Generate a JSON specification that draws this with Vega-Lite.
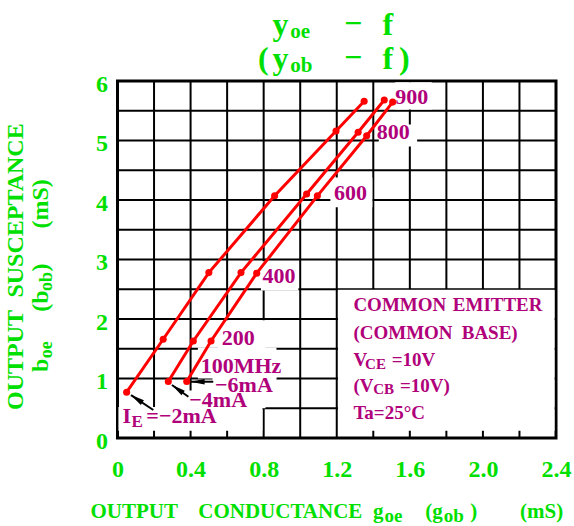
{
  "$schema": "https://vega.github.io/schema/vega-lite/v6.json",
  "width": 438.5,
  "height": 357,
  "autosize": "none",
  "padding": {"left": 117.5, "top": 81, "right": 18, "bottom": 88},
  "background": "white",
  "config": {
    "view": {"stroke": "black", "strokeWidth": 3},
    "axis": {"grid": false, "domain": false, "ticks": false, "title": null,
      "labelFont": "Liberation Serif", "labelFontWeight": "bold", "labelFontSize": 24, "labelColor": "#00e000", "labelFlush": false, "labelOverlap": false},
    "text": {"font": "Liberation Serif", "fontWeight": "bold"}
  },
  "datasets": {
    "gridX": [{"v": 0.2}, {"v": 0.4}, {"v": 0.6}, {"v": 0.8}, {"v": 1.0}, {"v": 1.2}, {"v": 1.4}, {"v": 1.6}, {"v": 1.8}, {"v": 2.0}, {"v": 2.2}],
    "gridY": [{"v": 0.5}, {"v": 1.0}, {"v": 1.5}, {"v": 2.0}, {"v": 2.5}, {"v": 3.0}, {"v": 3.5}, {"v": 4.0}, {"v": 4.5}, {"v": 5.0}, {"v": 5.5}],
    "curves": [
      {"ie": "-2mA", "freq": 100, "g": 0.05, "b": 0.77},
      {"ie": "-2mA", "freq": 200, "g": 0.25, "b": 1.66},
      {"ie": "-2mA", "freq": 400, "g": 0.50, "b": 2.78},
      {"ie": "-2mA", "freq": 600, "g": 0.86, "b": 4.07},
      {"ie": "-2mA", "freq": 800, "g": 1.196, "b": 5.16},
      {"ie": "-2mA", "freq": 900, "g": 1.35, "b": 5.66},
      {"ie": "-4mA", "freq": 100, "g": 0.278, "b": 0.95},
      {"ie": "-4mA", "freq": 200, "g": 0.415, "b": 1.63},
      {"ie": "-4mA", "freq": 400, "g": 0.676, "b": 2.78},
      {"ie": "-4mA", "freq": 600, "g": 1.035, "b": 4.10},
      {"ie": "-4mA", "freq": 800, "g": 1.317, "b": 5.14},
      {"ie": "-4mA", "freq": 900, "g": 1.46, "b": 5.68},
      {"ie": "-6mA", "freq": 100, "g": 0.379, "b": 0.95},
      {"ie": "-6mA", "freq": 200, "g": 0.512, "b": 1.63},
      {"ie": "-6mA", "freq": 400, "g": 0.762, "b": 2.77},
      {"ie": "-6mA", "freq": 600, "g": 1.094, "b": 4.07},
      {"ie": "-6mA", "freq": 800, "g": 1.364, "b": 5.08},
      {"ie": "-6mA", "freq": 900, "g": 1.506, "b": 5.645}
    ],
    "boxes": [
      {"name": "legend", "x": 1.207, "x2": 2.392, "y": 0.12, "y2": 2.49},
      {"name": "bottom", "x": 0.005, "x2": 0.793, "y": 0.12, "y2": 0.52},
      {"name": "m4", "x": 0.36, "x2": 0.81, "y": 0.5, "y2": 0.8},
      {"name": "m6", "x": 0.52, "x2": 0.87, "y": 0.75, "y2": 1.12},
      {"name": "mhz", "x": 0.44, "x2": 0.87, "y": 1.0, "y2": 1.52},
      {"name": "f200", "x": 0.55, "x2": 0.81, "y": 1.4, "y2": 1.98},
      {"name": "f400", "x": 0.785, "x2": 0.99, "y": 2.48, "y2": 2.97},
      {"name": "f600", "x": 1.165, "x2": 1.395, "y": 3.88, "y2": 4.38},
      {"name": "f800", "x": 1.43, "x2": 1.64, "y": 4.9, "y2": 5.27},
      {"name": "f900", "x": 1.52, "x2": 1.72, "y": 5.52, "y2": 5.98}
    ],
    "arrows": [
      {"id": "a2", "x": 0.196, "y": 0.47, "x2": 0.074, "y2": 0.72, "hx": 0.104, "hy": 0.66},
      {"id": "a4", "x": 0.388, "y": 0.694, "x2": 0.298, "y2": 0.89, "hx": 0.328, "hy": 0.826},
      {"id": "a6", "x": 0.524, "y": 0.946, "x2": 0.402, "y2": 0.946, "hx": 0.438, "hy": 0.946}
    ],
    "annot": [
      {"label": "900", "x": 1.52, "y": 5.73},
      {"label": "800", "x": 1.419, "y": 5.14},
      {"label": "600", "x": 1.185, "y": 4.11},
      {"label": "400", "x": 0.793, "y": 2.72},
      {"label": "200", "x": 0.57, "y": 1.68},
      {"label": "100MHz", "x": 0.455, "y": 1.21},
      {"label": "−6mA", "x": 0.534, "y": 0.89},
      {"label": "−4mA", "x": 0.393, "y": 0.64},
      {"label": "I", "x": 0.028, "y": 0.37},
      {"label": "=−2mA", "x": 0.158, "y": 0.37}
    ],
    "annotSub": [
      {"label": "E", "x": 0.077, "y": 0.27}
    ],
    "legendText": [
      {"label": "COMMON", "x": 1.291, "y": 2.235},
      {"label": "EMITTER", "x": 1.835, "y": 2.235},
      {"label": "(COMMON", "x": 1.291, "y": 1.76},
      {"label": "BASE)", "x": 1.884, "y": 1.76},
      {"label": "V", "x": 1.291, "y": 1.31},
      {"label": "=10V", "x": 1.501, "y": 1.31},
      {"label": "(V", "x": 1.291, "y": 0.88},
      {"label": "=10V)", "x": 1.546, "y": 0.88},
      {"label": "Ta=25°C", "x": 1.291, "y": 0.415}
    ],
    "legendSub": [
      {"label": "CE", "x": 1.355, "y": 1.25},
      {"label": "CB", "x": 1.40, "y": 0.82}
    ],
    "titleBig": [
      {"label": "y", "x": 0.849, "y": 6.773},
      {"label": "−", "x": 1.24, "y": 6.79},
      {"label": "f", "x": 1.45, "y": 6.773},
      {"label": "(", "x": 0.769, "y": 6.21},
      {"label": "y", "x": 0.849, "y": 6.21},
      {"label": "−", "x": 1.24, "y": 6.225},
      {"label": "f", "x": 1.45, "y": 6.21},
      {"label": ")", "x": 1.541, "y": 6.21}
    ],
    "titleSub": [
      {"label": "oe", "x": 0.945, "y": 6.716},
      {"label": "ob", "x": 0.945, "y": 6.151}
    ],
    "xTitle": [
      {"label": "OUTPUT", "x": -0.148, "y": -1.35},
      {"label": "CONDUCTANCE", "x": 0.442, "y": -1.35},
      {"label": "g", "x": 1.398, "y": -1.35},
      {"label": "(g", "x": 1.685, "y": -1.35},
      {"label": ")", "x": 1.93, "y": -1.35},
      {"label": "(mS)", "x": 2.203, "y": -1.35}
    ],
    "xTitleSub": [
      {"label": "oe", "x": 1.462, "y": -1.42},
      {"label": "ob", "x": 1.785, "y": -1.42}
    ],
    "yTitle": [
      {"label": "OUTPUT", "x": -0.517, "y": 0.47},
      {"label": "SUSCEPTANCE", "x": -0.517, "y": 2.36},
      {"label": "b", "x": -0.38, "y": 1.11},
      {"label": "(b", "x": -0.38, "y": 2.12},
      {"label": ")", "x": -0.38, "y": 2.80},
      {"label": "(mS)", "x": -0.38, "y": 3.52}
    ],
    "yTitleSub": [
      {"label": "oe", "x": -0.358, "y": 1.34},
      {"label": "ob", "x": -0.358, "y": 2.47}
    ]
  },
  "layer": [
    {
      "data": {"name": "gridX"},
      "mark": {"type": "rule", "color": "black", "strokeWidth": 2},
      "encoding": {
        "x": {"field": "v", "type": "quantitative",
          "scale": {"domain": [0, 2.4], "nice": false, "zero": false},
          "axis": {
            "values": [0, 0.4, 0.8, 1.2, 1.6, 2.0, 2.4],
            "labelExpr": "datum.value == 0 ? '0' : format(datum.value, '.1f')",
            "labelPadding": 19
          }
        }
      }
    },
    {
      "data": {"name": "gridY"},
      "mark": {"type": "rule", "color": "black", "strokeWidth": 2},
      "encoding": {
        "y": {"field": "v", "type": "quantitative",
          "scale": {"domain": [0, 6], "nice": false, "zero": false},
          "axis": {
            "values": [0, 1, 2, 3, 4, 5, 6],
            "labelExpr": "format(datum.value, 'd')",
            "labelPadding": 10, "labelOffset": 3
          }
        }
      }
    },
    {
      "data": {"name": "boxes"},
      "mark": {"type": "rect", "fill": "white"},
      "encoding": {
        "x": {"field": "x", "type": "quantitative"},
        "x2": {"field": "x2"},
        "y": {"field": "y", "type": "quantitative"},
        "y2": {"field": "y2"}
      }
    },
    {
      "data": {"name": "curves"},
      "mark": {"type": "line", "color": "#ff0000", "strokeWidth": 3},
      "encoding": {
        "x": {"field": "g", "type": "quantitative"},
        "y": {"field": "b", "type": "quantitative"},
        "detail": {"field": "ie"},
        "order": {"field": "freq"}
      }
    },
    {
      "data": {"name": "curves"},
      "mark": {"type": "point", "filled": true, "color": "#ff0000", "size": 50, "opacity": 1},
      "encoding": {
        "x": {"field": "g", "type": "quantitative"},
        "y": {"field": "b", "type": "quantitative"}
      }
    },
    {
      "data": {"name": "arrows"},
      "mark": {"type": "rule", "color": "black", "strokeWidth": 2},
      "encoding": {
        "x": {"field": "x", "type": "quantitative"},
        "y": {"field": "y", "type": "quantitative"},
        "x2": {"field": "x2"},
        "y2": {"field": "y2"}
      }
    },
    {
      "data": {"name": "arrows"},
      "transform": [{"filter": "datum.id == 'a2'"}],
      "mark": {"type": "point", "shape": "M0,-1L0.4,1L-0.4,1Z", "filled": true, "color": "black", "size": 200, "opacity": 1, "angle": 304},
      "encoding": {
        "x": {"field": "hx", "type": "quantitative"},
        "y": {"field": "hy", "type": "quantitative"}
      }
    },
    {
      "data": {"name": "arrows"},
      "transform": [{"filter": "datum.id == 'a4'"}],
      "mark": {"type": "point", "shape": "M0,-1L0.4,1L-0.4,1Z", "filled": true, "color": "black", "size": 200, "opacity": 1, "angle": 306},
      "encoding": {
        "x": {"field": "hx", "type": "quantitative"},
        "y": {"field": "hy", "type": "quantitative"}
      }
    },
    {
      "data": {"name": "arrows"},
      "transform": [{"filter": "datum.id == 'a6'"}],
      "mark": {"type": "point", "shape": "M0,-1L0.4,1L-0.4,1Z", "filled": true, "color": "black", "size": 200, "opacity": 1, "angle": 270},
      "encoding": {
        "x": {"field": "hx", "type": "quantitative"},
        "y": {"field": "hy", "type": "quantitative"}
      }
    },
    {
      "data": {"name": "annot"},
      "mark": {"type": "text", "align": "left", "baseline": "middle", "fontSize": 22, "color": "#b0007a"},
      "encoding": {
        "x": {"field": "x", "type": "quantitative"},
        "y": {"field": "y", "type": "quantitative"},
        "text": {"field": "label"}
      }
    },
    {
      "data": {"name": "annotSub"},
      "mark": {"type": "text", "align": "left", "baseline": "middle", "fontSize": 17, "color": "#b0007a"},
      "encoding": {
        "x": {"field": "x", "type": "quantitative"},
        "y": {"field": "y", "type": "quantitative"},
        "text": {"field": "label"}
      }
    },
    {
      "data": {"name": "legendText"},
      "mark": {"type": "text", "align": "left", "baseline": "middle", "fontSize": 19, "color": "#b0007a"},
      "encoding": {
        "x": {"field": "x", "type": "quantitative"},
        "y": {"field": "y", "type": "quantitative"},
        "text": {"field": "label"}
      }
    },
    {
      "data": {"name": "legendSub"},
      "mark": {"type": "text", "align": "left", "baseline": "middle", "fontSize": 15, "color": "#b0007a"},
      "encoding": {
        "x": {"field": "x", "type": "quantitative"},
        "y": {"field": "y", "type": "quantitative"},
        "text": {"field": "label"}
      }
    },
    {
      "data": {"name": "titleBig"},
      "mark": {"type": "text", "align": "left", "baseline": "alphabetic", "fontSize": 32, "color": "#00e000"},
      "encoding": {
        "x": {"field": "x", "type": "quantitative"},
        "y": {"field": "y", "type": "quantitative"},
        "text": {"field": "label"}
      }
    },
    {
      "data": {"name": "titleSub"},
      "mark": {"type": "text", "align": "left", "baseline": "alphabetic", "fontSize": 21, "color": "#00e000"},
      "encoding": {
        "x": {"field": "x", "type": "quantitative"},
        "y": {"field": "y", "type": "quantitative"},
        "text": {"field": "label"}
      }
    },
    {
      "data": {"name": "xTitle"},
      "mark": {"type": "text", "align": "left", "baseline": "alphabetic", "fontSize": 21, "color": "#00e000"},
      "encoding": {
        "x": {"field": "x", "type": "quantitative"},
        "y": {"field": "y", "type": "quantitative"},
        "text": {"field": "label"}
      }
    },
    {
      "data": {"name": "xTitleSub"},
      "mark": {"type": "text", "align": "left", "baseline": "alphabetic", "fontSize": 19, "color": "#00e000"},
      "encoding": {
        "x": {"field": "x", "type": "quantitative"},
        "y": {"field": "y", "type": "quantitative"},
        "text": {"field": "label"}
      }
    },
    {
      "data": {"name": "yTitle"},
      "mark": {"type": "text", "align": "left", "baseline": "alphabetic", "fontSize": 24, "angle": 270, "color": "#00e000"},
      "encoding": {
        "x": {"field": "x", "type": "quantitative"},
        "y": {"field": "y", "type": "quantitative"},
        "text": {"field": "label"}
      }
    },
    {
      "data": {"name": "yTitleSub"},
      "mark": {"type": "text", "align": "left", "baseline": "alphabetic", "fontSize": 18, "angle": 270, "color": "#00e000"},
      "encoding": {
        "x": {"field": "x", "type": "quantitative"},
        "y": {"field": "y", "type": "quantitative"},
        "text": {"field": "label"}
      }
    }
  ]
}
